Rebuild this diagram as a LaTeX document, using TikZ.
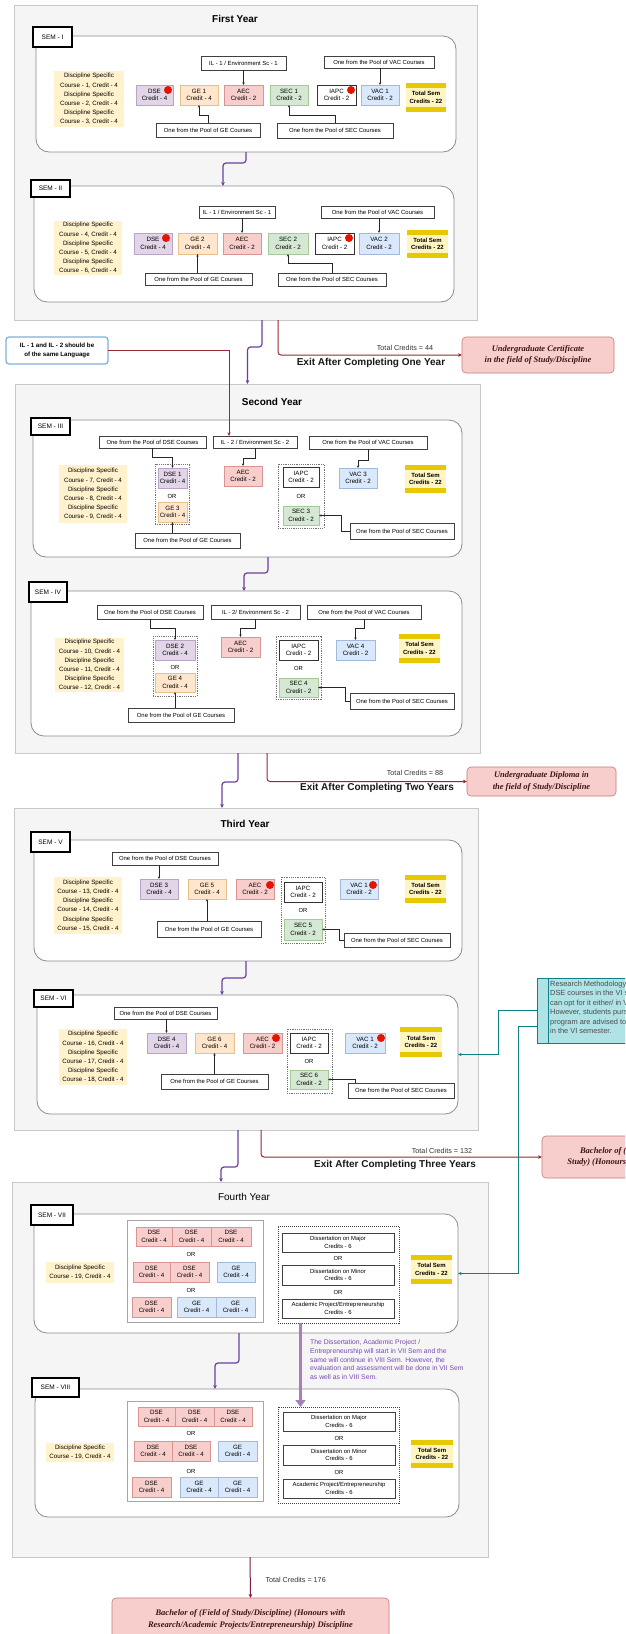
\documentclass[tikz,border=0pt]{standalone}
\usepackage{fontspec}
\setmainfont{Liberation Sans}
\newfontfamily\serfam{Liberation Serif}
\usetikzlibrary{arrows.meta,calc}
\definecolor{dsef}{HTML}{E1D5E7}\definecolor{dses}{HTML}{B9A3C6}
\definecolor{gef}{HTML}{FFE6CC}\definecolor{ges}{HTML}{E8C08A}
\definecolor{aecf}{HTML}{F8CECC}\definecolor{aecs}{HTML}{D99593}
\definecolor{secf}{HTML}{D5E8D4}\definecolor{secs}{HTML}{A6C99A}
\definecolor{vacf}{HTML}{DAE8FC}\definecolor{vacs}{HTML}{A3B9DB}
\definecolor{discf}{HTML}{FFF2CC}
\definecolor{totmid}{HTML}{FFF5C2}\definecolor{totbar}{HTML}{E8C800}
\definecolor{yearf}{HTML}{F5F5F5}\definecolor{years}{HTML}{C8C8C8}
\definecolor{semS}{HTML}{8C8C8C}
\definecolor{purpl}{HTML}{6A3FA0}
\definecolor{exitc}{HTML}{962A32}
\definecolor{resf}{HTML}{F8CECC}\definecolor{ress}{HTML}{C77B78}
\definecolor{restx}{HTML}{3C1414}
\definecolor{tealf}{HTML}{B0E3E6}\definecolor{teals}{HTML}{0E8088}
\definecolor{bigp}{HTML}{A680B8}
\definecolor{notec}{HTML}{7A48B0}
\definecolor{ilnote}{HTML}{7FB2DC}
\definecolor{finc}{HTML}{7A1E46}
\definecolor{reddotc}{HTML}{E51400}
\newcommand{\bx}[7]{%
  \pgfmathsetmacro{\bxw}{(#5)-(#3)}%
  \pgfmathsetmacro{\bxh}{(#6)-(#4)}%
  \pgfmathsetmacro{\bxcx}{((#3)+(#5))/2}%
  \pgfmathsetmacro{\bxcy}{((#4)+(#6))/2}%
  \node[inner sep=0pt, outer sep=0pt, #2, minimum width=\bxw pt, minimum height=\bxh pt] (#1) at (\bxcx,\bxcy) {#7};}
\begin{document}
\begin{tikzpicture}[x=1pt,y=-1pt,
  yearbox/.style={draw=years, fill=yearf, line width=0.6pt},
  sembox/.style={draw=semS, fill=white, rounded corners=13pt, line width=0.8pt},
  semlab/.style={draw=black, fill=white, line width=1.3pt, font=\fontsize{6.5}{7.5}\selectfont},
  ytitle/.style={font=\fontsize{10}{12}\selectfont\bfseries},
  it/.style={align=center, font=\fontsize{6.2}{7.6}\selectfont, line width=0.4pt},
  dsec/.style={fill=dsef, draw=dses},
  gec/.style={fill=gef, draw=ges},
  aecc/.style={fill=aecf, draw=aecs},
  secc/.style={fill=secf, draw=secs},
  vacc/.style={fill=vacf, draw=vacs},
  iapcc/.style={fill=white, draw=black!80},
  disc/.style={fill=discf, align=center, font=\fontsize{6.2}{9.2}\selectfont},
  totbox/.style={fill=totmid, align=center, font=\fontsize{6}{7.4}\selectfont\bfseries,
    path picture={\fill[totbar] (path picture bounding box.north west) rectangle ([yshift=-5pt]path picture bounding box.north east);
      \fill[totbar] (path picture bounding box.south west) rectangle ([yshift=5pt]path picture bounding box.south east);}},
  pool/.style={draw=black!75, fill=white, line width=0.5pt, font=\fontsize{5.9}{7}\selectfont},
  grp/.style={draw=black!55, dash pattern=on 1.2pt off 1pt, line width=0.5pt},
  grid/.style={draw=black!35, fill=white, line width=0.5pt},
  dgrp/.style={draw=black!75, dash pattern=on 1pt off 1pt, line width=0.7pt},
  dbox/.style={draw=black!75, fill=white, line width=0.5pt, align=center, font=\fontsize{5.9}{7.6}\selectfont},
  ortext/.style={font=\fontsize{5.9}{7}\selectfont, inner sep=0pt},
  reddot/.style={circle, fill=reddotc, minimum size=8pt, inner sep=0pt},
  arr/.style={draw=black!85, line width=0.5pt, -{Stealth[length=2.6pt,width=2.4pt]}},
  pc/.style={draw=purpl, line width=1.2pt, rounded corners=3pt, -{Stealth[length=4pt,width=3.6pt]}},
  ec/.style={draw=exitc, line width=1pt, rounded corners=3pt, -{Stealth[length=4pt,width=3.6pt]}},
  ilc/.style={draw=exitc, line width=0.8pt, -{Stealth[length=3.5pt,width=3.2pt]}},
  tlc/.style={draw=teals, line width=0.9pt, -{Stealth[length=3.5pt,width=3.2pt]}},
  bigarr/.style={draw=bigp, line width=3.6pt, -{Triangle[length=7pt,width=10pt]}},
  fc/.style={draw=finc, line width=1pt, -{Stealth[length=4pt,width=3.6pt]}},
  tcred/.style={font=\fontsize{7.2}{8.5}\selectfont, text=black!80},
  exitlab/.style={font=\fontsize{10}{12}\selectfont\bfseries, text=black!90},
  resbox/.style={fill=resf, draw=ress, line width=0.6pt, rounded corners=4pt, align=center,
    font=\fontsize{8.5}{11.5}\selectfont\serfam\bfseries\itshape, text=restx},
  ilbox/.style={draw=ilnote, fill=white, line width=1.3pt, rounded corners=3pt, align=center,
    font=\fontsize{6.2}{9}\selectfont\bfseries},
  tealbox/.style={fill=tealf, draw=teals, line width=0.8pt},
  tealtxt/.style={align=left, inner sep=0pt, font=\fontsize{7.4}{9.5}\selectfont, text=black!70},
  notetxt/.style={align=left, inner sep=0pt, font=\fontsize{6.8}{8.7}\selectfont, text=notec}
]
\useasboundingbox (0,0) rectangle (625,1634);
\clip (0,0) rectangle (625,1634);
\fill[white] (0,0) rectangle (625,1634);

% ================= FIRST YEAR =================
\bx{y1}{yearbox}{14}{5}{477}{320}{}
\node[ytitle] (t1) at (235,19) {First Year};
% SEM I
\bx{s1}{sembox}{36}{36}{456}{152}{}
\bx{l1}{semlab}{33}{27}{72}{47}{SEM - I}
\bx{aDisc}{disc}{54}{71}{124}{127}{Discipline Specific\\Course - 1, Credit - 4\\Discipline Specific\\Course - 2, Credit - 4\\Discipline Specific\\Course - 3, Credit - 4}
\bx{aDse}{it,dsec}{136}{85}{173}{105}{DSE\\Credit - 4}
\bx{aGe}{it,gec}{180}{85}{218}{105}{GE 1\\Credit - 4}
\bx{aAec}{it,aecc}{224}{85}{263}{105}{AEC\\Credit - 2}
\bx{aSec}{it,secc}{270}{85}{308}{105}{SEC 1\\Credit - 2}
\bx{aIapc}{it,iapcc}{317}{85}{356}{105}{IAPC\\Credit - 2}
\bx{aVac}{it,vacc}{361}{85}{399}{105}{VAC 1\\Credit - 2}
\bx{aTot}{totbox}{406}{83}{446}{112}{Total Sem\\Credits - 22}
\bx{aIl}{pool}{201}{56}{286}{70}{IL - 1 / Environment Sc - 1}
\bx{aVp}{pool}{324}{56}{434}{68}{One from the Pool of VAC Courses}
\bx{aGp}{pool}{156}{123}{260}{137}{One from the Pool of GE Courses}
\bx{aSp}{pool}{277}{123}{393}{138}{One from the Pool of SEC Courses}
\node[reddot] (aDot1) at (168,90) {};
\node[reddot] (aDot2) at (351,90) {};
% SEM II
\bx{s2}{sembox}{34}{186}{454}{302}{}
\bx{l2}{semlab}{31}{180}{70}{197}{SEM - II}
\bx{bDisc}{disc}{54}{221}{122}{275}{Discipline Specific\\Course - 4, Credit - 4\\Discipline Specific\\Course - 5, Credit - 4\\Discipline Specific\\Course - 6, Credit - 4}
\bx{bDse}{it,dsec}{134}{233}{172}{254}{DSE\\Credit - 4}
\bx{bGe}{it,gec}{178}{233}{217}{254}{GE 2\\Credit - 4}
\bx{bAec}{it,aecc}{223}{233}{261}{254}{AEC\\Credit - 2}
\bx{bSec}{it,secc}{268}{233}{308}{254}{SEC 2\\Credit - 2}
\bx{bIapc}{it,iapcc}{315}{233}{354}{254}{IAPC\\Credit - 2}
\bx{bVac}{it,vacc}{359}{233}{399}{254}{VAC 2\\Credit - 2}
\bx{bTot}{totbox}{407}{230}{448}{258}{Total Sem\\Credits - 22}
\bx{bIl}{pool}{199}{206}{275}{218}{IL - 1 / Environment Sc - 1}
\bx{bVp}{pool}{321}{206}{434}{218}{One from the Pool of VAC Courses}
\bx{bGp}{pool}{145}{273}{252}{285}{One from the Pool of GE Courses}
\bx{bSp}{pool}{278}{273}{386}{286}{One from the Pool of SEC Courses}
\node[reddot] (bDot1) at (166,238) {};
\node[reddot] (bDot2) at (349,238) {};

% exit 1
\bx{cert}{resbox}{462}{337}{614}{373}{Undergraduate Certificate\\in the field of Study/Discipline}
\node[tcred] (tc1) at (405,348) {Total Credits = 44};
\node[exitlab] (ex1) at (371,363) {Exit After Completing One Year};
\bx{ilnote}{ilbox}{6}{337}{108}{364}{IL - 1 and IL - 2 should be\\of the same Language}

% ================= SECOND YEAR =================
\bx{y2}{yearbox}{15}{384}{480}{753}{}
\node[ytitle] (t2) at (272,402) {Second Year};
% SEM III
\bx{s3}{sembox}{33}{420}{462}{557}{}
\bx{l3}{semlab}{31}{418}{70}{435}{SEM - III}
\bx{cDisc}{disc}{59}{465}{127}{523}{Discipline Specific\\Course - 7, Credit - 4\\Discipline Specific\\Course - 8, Credit - 4\\Discipline Specific\\Course - 9, Credit - 4}
\bx{cDp}{pool}{99}{436}{206}{448}{One from the Pool of DSE Courses}
\bx{cIl}{pool}{213}{436}{297}{448}{IL - 2 / Environment Sc - 2}
\bx{cVp}{pool}{309}{436}{427}{449}{One from the Pool of VAC Courses}
\bx{cG1}{grp}{155}{464}{189}{524}{}
\bx{cDse}{it,dsec}{158}{468}{187}{488}{DSE 1\\Credit - 4}
\node[ortext] (cOr1) at (172,496) {OR};
\bx{cGe}{it,gec}{158}{502}{187}{522}{GE 3\\Credit - 4}
\bx{cAec}{it,aecc}{224}{466}{262}{486}{AEC\\Credit - 2}
\bx{cG2}{grp}{278}{464}{324}{528}{}
\bx{cIapc}{it,iapcc}{283}{467}{319}{487}{IAPC\\Credit - 2}
\node[ortext] (cOr2) at (301,496) {OR};
\bx{cSec}{it,secc}{283}{506}{319}{525}{SEC 3\\Credit - 2}
\bx{cVac}{it,vacc}{339}{468}{377}{488}{VAC 3\\Credit - 2}
\bx{cTot}{totbox}{405}{465}{446}{493}{Total Sem\\Credits - 22}
\bx{cGp}{pool}{135}{533}{240}{548}{One from the Pool of GE Courses}
\bx{cSp}{pool}{350}{523}{454}{539}{One from the Pool of SEC Courses}
% SEM IV
\bx{s4}{sembox}{31}{591}{462}{736}{}
\bx{l4}{semlab}{29}{582}{67}{602}{SEM - IV}
\bx{dDisc}{disc}{55}{638}{124}{692}{Discipline Specific\\Course - 10, Credit - 4\\Discipline Specific\\Course - 11, Credit - 4\\Discipline Specific\\Course - 12, Credit - 4}
\bx{dDp}{pool}{97}{605}{203}{619}{One from the Pool of DSE Courses}
\bx{dIl}{pool}{211}{605}{300}{619}{IL - 2/ Environment Sc - 2}
\bx{dVp}{pool}{307}{605}{421}{619}{One from the Pool of VAC Courses}
\bx{dG1}{grp}{153}{636}{197}{696}{}
\bx{dDse}{it,dsec}{155}{640}{195}{660}{DSE 2\\Credit - 4}
\node[ortext] (dOr1) at (175,667) {OR};
\bx{dGe}{it,gec}{155}{673}{195}{692}{GE 4\\Credit - 4}
\bx{dAec}{it,aecc}{221}{637}{260}{657}{AEC\\Credit - 2}
\bx{dG2}{grp}{276}{636}{321}{699}{}
\bx{dIapc}{it,iapcc}{279}{640}{318}{660}{IAPC\\Credit - 2}
\node[ortext] (dOr2) at (298.5,668) {OR};
\bx{dSec}{it,secc}{279}{678}{318}{697}{SEC 4\\Credit - 2}
\bx{dVac}{it,vacc}{336}{640}{375}{660}{VAC 4\\Credit - 2}
\bx{dTot}{totbox}{399}{634}{440}{663}{Total Sem\\Credits - 22}
\bx{dGp}{pool}{128}{708}{234}{722}{One from the Pool of GE Courses}
\bx{dSp}{pool}{350}{693}{454}{709}{One from the Pool of SEC Courses}

% exit 2
\bx{dipl}{resbox}{467}{767}{616}{796}{Undergraduate Diploma in\\the field of Study/Discipline}
\node[tcred] (tc2) at (415,773) {Total Credits = 88};
\node[exitlab] (ex2) at (377,788) {Exit After Completing Two Years};

% ================= THIRD YEAR =================
\bx{y3}{yearbox}{14}{808}{478}{1130}{}
\node[ytitle] (t3) at (245,824) {Third Year};
% SEM V
\bx{s5}{sembox}{34}{840}{462}{961}{}
\bx{l5}{semlab}{31}{832}{70}{852}{SEM - V}
\bx{eDisc}{disc}{54}{877}{122}{934}{Discipline Specific\\Course - 13, Credit - 4\\Discipline Specific\\Course - 14, Credit - 4\\Discipline Specific\\Course - 15, Credit - 4}
\bx{eDp}{pool}{112}{852}{218}{865}{One from the Pool of DSE Courses}
\bx{eDse}{it,dsec}{140}{879}{178}{899}{DSE 3\\Credit - 4}
\bx{eGe}{it,gec}{188}{879}{226}{899}{GE 5\\Credit - 4}
\bx{eAec}{it,aecc}{236}{879}{274}{899}{AEC\\Credit - 2}
\bx{eG2}{grp}{281}{877}{325}{943}{}
\bx{eIapc}{it,iapcc}{284}{882}{322}{902}{IAPC\\Credit - 2}
\node[ortext] (eOr) at (303,910) {OR};
\bx{eSec}{it,secc}{284}{919}{322}{940}{SEC 5\\Credit - 2}
\bx{eVac}{it,vacc}{340}{879}{378}{899}{VAC 1\\Credit - 2}
\bx{eTot}{totbox}{405}{875}{446}{903}{Total Sem\\Credits - 22}
\bx{eGp}{pool}{157}{921}{261}{937}{One from the Pool of GE Courses}
\bx{eSp}{pool}{344}{933}{450}{947}{One from the Pool of SEC Courses}
\node[reddot] (eDot1) at (270,885) {};
\node[reddot] (eDot2) at (373,885) {};
% SEM VI
\bx{s6}{sembox}{37}{995}{458}{1114}{}
\bx{l6}{semlab}{34}{990}{73}{1007}{SEM - VI}
\bx{fDisc}{disc}{59}{1029}{127}{1085}{Discipline Specific\\Course - 16, Credit - 4\\Discipline Specific\\Course - 17, Credit - 4\\Discipline Specific\\Course - 18, Credit - 4}
\bx{fDp}{pool}{114}{1007}{217}{1019}{One from the Pool of DSE Courses}
\bx{fDse}{it,dsec}{147}{1033}{186}{1053}{DSE 4\\Credit - 4}
\bx{fGe}{it,gec}{195}{1033}{234}{1053}{GE 6\\Credit - 4}
\bx{fAec}{it,aecc}{243}{1033}{282}{1053}{AEC\\Credit - 2}
\bx{fG2}{grp}{287}{1029}{332}{1093}{}
\bx{fIapc}{it,iapcc}{290}{1033}{328}{1053}{IAPC\\Credit - 2}
\node[ortext] (fOr) at (309,1061) {OR};
\bx{fSec}{it,secc}{290}{1070}{328}{1089}{SEC 6\\Credit - 2}
\bx{fVac}{it,vacc}{345}{1033}{385}{1053}{VAC 1\\Credit - 2}
\bx{fTot}{totbox}{400}{1027}{442}{1057}{Total Sem\\Credits - 22}
\bx{fGp}{pool}{161}{1074}{268}{1089}{One from the Pool of GE Courses}
\bx{fSp}{pool}{348}{1083}{454}{1098}{One from the Pool of SEC Courses}
\node[reddot] (fDot1) at (276,1038) {};
\node[reddot] (fDot2) at (381,1038) {};

% teal note
\bx{teal}{tealbox}{537}{978}{760}{1043}{}
\draw[teals, line width=0.6pt] ([xshift=11pt]teal.north west) -- ([xshift=11pt]teal.south west);
\node[tealtxt, anchor=north west] (tealt) at (550,980.5) {Research Methodology is one of the\\DSE courses in the VI semester. Students\\can opt for it either/ in VI or VII Sem.\\However, students pursuing the research\\program are advised to opt for it\\in the VI semester.};

% exit 3
\bx{bach}{resbox}{542}{1136}{692}{1178}{Bachelor of (Field of\\Study) (Honours) Discipline}
\node[tcred] (tc3) at (442,1151) {Total Credits = 132};
\node[exitlab] (ex3) at (395,1165) {Exit After Completing Three Years};

% ================= FOURTH YEAR =================
\bx{y4}{yearbox}{12}{1182}{488}{1557}{}
\node[font=\fontsize{10}{12}\selectfont] (t4) at (244,1197) {Fourth Year};
% SEM VII
\bx{s7}{sembox}{34}{1214}{458}{1333}{}
\bx{l7}{semlab}{31}{1205}{73}{1225}{SEM - VII}
\bx{gDisc}{disc}{46}{1262}{114}{1283}{Discipline Specific\\Course - 19, Credit - 4}
\bx{gGrid}{grid}{127}{1220}{263}{1322}{}
\bx{g11}{it,aecc}{136}{1227}{172}{1246}{DSE\\Credit - 4}
\bx{g12}{it,aecc}{172}{1227}{211}{1246}{DSE\\Credit - 4}
\bx{g13}{it,aecc}{211}{1227}{251}{1246}{DSE\\Credit - 4}
\node[ortext] (gOr1) at (191,1254) {OR};
\bx{g21}{it,aecc}{133}{1262}{170}{1282}{DSE\\Credit - 4}
\bx{g22}{it,aecc}{170}{1262}{209}{1282}{DSE\\Credit - 4}
\bx{g23}{it,vacc}{217}{1262}{255}{1282}{GE\\Credit - 4}
\node[ortext] (gOr2) at (191,1290) {OR};
\bx{g31}{it,aecc}{132}{1297}{171}{1317}{DSE\\Credit - 4}
\bx{g32}{it,vacc}{177}{1297}{216}{1317}{GE\\Credit - 4}
\bx{g33}{it,vacc}{216}{1297}{255}{1317}{GE\\Credit - 4}
\bx{gDg}{dgrp}{278}{1226}{399}{1323}{}
\bx{gMaj}{dbox}{282}{1233}{394}{1252}{Dissertation on Major\\Credits - 6}
\node[ortext] (gOr3) at (338,1258.5) {OR};
\bx{gMin}{dbox}{282}{1265}{394}{1285}{Dissertation on Minor\\Credits - 6}
\node[ortext] (gOr4) at (338,1292) {OR};
\bx{gAcp}{dbox}{282}{1299}{394}{1318}{Academic Project/Entrepreneurship\\Credits - 6}
\bx{gTot}{totbox}{411}{1255}{452}{1284}{Total Sem\\Credits - 22}
\node[notetxt, anchor=north west] (note) at (310,1339.5) {The Dissertation, Academic Project /\\Entrepreneurship will start in VII Sem and the\\same will continue in VIII Sem. However, the\\evaluation and assessment will be done in VII Sem\\as well as in VIII Sem.};
% SEM VIII
\bx{s8}{sembox}{35}{1389}{459}{1517}{}
\bx{l8}{semlab}{32}{1378}{79}{1397}{SEM - VIII}
\bx{hDisc}{disc}{46}{1443}{114}{1462}{Discipline Specific\\Course - 19, Credit - 4}
\bx{hGrid}{grid}{127}{1401}{263}{1501}{}
\bx{h11}{it,aecc}{138}{1407}{175}{1426}{DSE\\Credit - 4}
\bx{h12}{it,aecc}{175}{1407}{214}{1426}{DSE\\Credit - 4}
\bx{h13}{it,aecc}{214}{1407}{252}{1426}{DSE\\Credit - 4}
\node[ortext] (hOr1) at (191,1433.5) {OR};
\bx{h21}{it,aecc}{134}{1441}{172}{1461}{DSE\\Credit - 4}
\bx{h22}{it,aecc}{172}{1441}{210}{1461}{DSE\\Credit - 4}
\bx{h23}{it,vacc}{218}{1441}{257}{1461}{GE\\Credit - 4}
\node[ortext] (hOr2) at (191,1471) {OR};
\bx{h31}{it,aecc}{132}{1477}{171}{1497}{DSE\\Credit - 4}
\bx{h32}{it,vacc}{180}{1477}{218}{1497}{GE\\Credit - 4}
\bx{h33}{it,vacc}{218}{1477}{257}{1497}{GE\\Credit - 4}
\bx{hDg}{dgrp}{278}{1407}{399}{1503}{}
\bx{hMaj}{dbox}{283}{1412}{395}{1431}{Dissertation on Major\\Credits - 6}
\node[ortext] (hOr3) at (339,1438.5) {OR};
\bx{hMin}{dbox}{283}{1445}{395}{1465}{Dissertation on Minor\\Credits - 6}
\node[ortext] (hOr4) at (339,1472) {OR};
\bx{hAcp}{dbox}{283}{1479}{395}{1498}{Academic Project/Entrepreneurship\\Credits - 6}
\bx{hTot}{totbox}{411}{1440}{453}{1468}{Total Sem\\Credits - 22}

% final
\bx{fin}{resbox}{112}{1598}{389}{1641}{Bachelor of (Field of Study/Discipline) (Honours with\\Research/Academic Projects/Entrepreneurship) Discipline}
\node[tcred, anchor=west] (tc4) at (262,1580) {Total Credits = 176};

% ================= CONNECTORS =================
% sem I
\draw[arr] (aIl.south) -- (aAec.north);
\draw[arr] (aVac.north |- aVp.south) -- (aVac.north);
\draw[arr] (aGp.north) -- ++(0,-8) -| (aGe.south);
\draw[arr] (aSp.north) -- ++(0,-8) -| (aSec.south);
\draw[pc] (s1.south) -- ++(0,11) -| ([xshift=-21pt]s2.north);
% sem II
\draw[arr] (bAec.north |- bIl.south) -- (bAec.north);
\draw[arr] (bVac.north |- bVp.south) -- (bVac.north);
\draw[arr] (bGe.south |- bGp.north) -- (bGe.south);
\draw[arr] (bSp.north) -- ++(0,-10) -| (bSec.south);
% year 1 exits
\draw[pc] ([xshift=16.5pt]y1.south) -- ++(0,27) -| (y2.north);
\draw[ec] ([xshift=32.5pt]y1.south) |- (cert.west);
\draw[ilc] (ilnote.east) -| ([xshift=-26pt]cIl.north);
% sem III
\draw[arr] (cDp.south) -- ++(0,9) -| (cDse.north);
\draw[arr] (cIl.south) -- ++(0,10) -| (cAec.north);
\draw[arr] (cVp.south) -- ++(0,11) -| (cVac.north);
\draw[arr] (cGe.south |- cGp.north) -- (cGe.south);
\draw[arr] (cSp.west) -- ++(-9,0) |- (cSec.east);
\draw[pc] ([xshift=20.5pt]s3.south) -- ++(0,16) -| ([xshift=-2.5pt]s4.north);
% sem IV
\draw[arr] (dDp.south) -- ++(0,9) -| (dDse.north);
\draw[arr] (dIl.south) -- ++(0,9) -| (dAec.north);
\draw[arr] (dVp.south) -- ++(0,9) -| (dVac.north);
\draw[arr] (dGe.south |- dGp.north) -- (dGe.south);
\draw[arr] (dSp.west) -- ++(-5,0) |- (dSec.east);
% year 2 exits
\draw[pc] ([xshift=-9.5pt]y2.south) -- ++(0,29) -| ([xshift=-24pt]y3.north);
\draw[ec] ([xshift=19.5pt]y2.south) |- (dipl.west);
% sem V
\draw[arr] (eDse.north |- eDp.south) -- (eDse.north);
\draw[arr] (eGe.south |- eGp.north) -- (eGe.south);
\draw[arr] (eSp.west) -- ++(-5,0) |- (eSec.east);
\draw[pc] ([xshift=-2pt]s5.south) -- ++(0,17) -| ([xshift=-25.5pt]s6.north);
% sem VI
\draw[arr] (fDse.north |- fDp.south) -- (fDse.north);
\draw[arr] (fGe.south |- fGp.north) -- (fGe.south);
\draw[arr] ([xshift=-46pt]fSp.north) |- (fSec.east);
% teal note
\draw[tlc] (teal.west) -- ++(-39,0) |- (s6.east);
\draw[tlc] ([yshift=-15.5pt]teal.west) -- ++(-19,0) |- (s7.east);
% year 3 exits
\draw[pc] ([xshift=-8pt]y3.south) -- ++(0,37) -| ([xshift=-29pt]y4.north);
\draw[ec] ([xshift=15pt]y3.south) |- (bach.west);
% sem VII -> VIII
\draw[pc] ([xshift=-7pt]s7.south) -- ++(0,30) -| ([xshift=-32pt]s8.north);
\draw[bigarr] ([xshift=-38pt]gDg.south) -- ([xshift=-38pt]hDg.north);
% final
\draw[fc] (y4.south) -- (fin.north);
\end{tikzpicture}
\end{document}
